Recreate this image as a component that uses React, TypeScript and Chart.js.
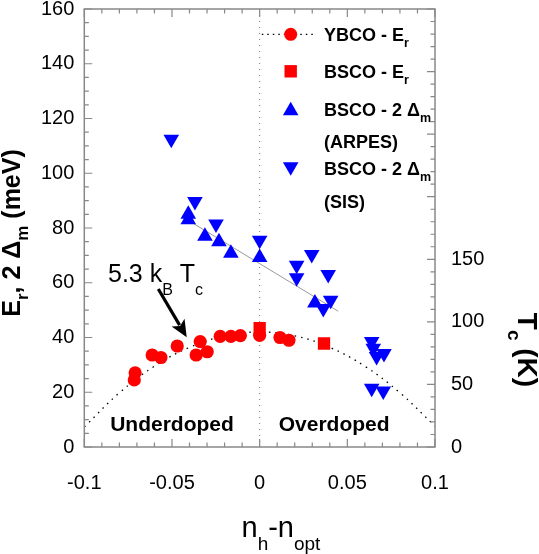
import React, { useEffect, useRef } from 'react';
import { Chart, registerables } from 'chart.js';

Chart.register(...registerables);

// ---------- data ----------
const xTickValues = [-0.1, -0.05, 0, 0.05, 0.1];
const yTickValues = [0, 20, 40, 60, 80, 100, 120, 140, 160];
const tcTickValues = [0, 50, 100, 150];

// YBCO - Er (red circles)
const ybcoX = [-0.0715, -0.071, -0.0613, -0.0563, -0.047, -0.0362, -0.0339, -0.0299, -0.0225, -0.0164, -0.011, 0, 0.0116, 0.0167];
const ybcoY = [24.5, 27.1, 33.6, 32.7, 36.9, 33.6, 38.5, 34.8, 40.4, 40.4, 40.7, 40.8, 40.0, 39.0];

// BSCO - Er (red squares)
const bscoErX = [0, 0.0367];
const bscoErY = [43.4, 37.8];

// BSCO - 2Δm ARPES (blue up triangles)
const arpesX = [-0.0407, -0.0407, -0.0312, -0.0232, -0.0164, 0, 0.0315];
const arpesY = [85.0, 83.0, 77.0, 75.0, 70.8, 69.2, 52.6];

// BSCO - 2Δm SIS (blue down triangles)
const sisX = [-0.0504, -0.0369, -0.0249, 0, 0.0211, 0.0211, 0.0297, 0.0391, 0.0405, 0.0363, 0.0639, 0.0648, 0.0667, 0.0709, 0.0639, 0.0705];
const sisY = [112.4, 89.7, 81.5, 75.5, 66.4, 61.8, 70.3, 63.0, 53.6, 50.6, 38.5, 36.1, 33.1, 34.2, 21.5, 20.5];

// dotted YBCO dome
const domeX = [-0.1, -0.08, -0.06, -0.04, -0.02, 0, 0.02, 0.04, 0.06, 0.08, 0.1];
const domeY = [7.3, 19.8, 29.5, 36.4, 40.6, 42.0, 40.6, 36.4, 29.5, 19.8, 7.6];

// grey straight line through the gaps
const gapLineX = [-0.041, 0.0448];
const gapLineY = [82.9, 49.6];

const FONT = '"Liberation Sans", Arial, Helvetica, sans-serif';

type Part = { t: string; sub?: boolean };

function drawRich(
  ctx: CanvasRenderingContext2D,
  parts: Part[],
  x: number,
  y: number,
  size: number,
  subSize: number,
  subDrop: number,
  weight: string,
  align: 'left' | 'center'
) {
  const widths = parts.map((p) => {
    ctx.font = `${weight} ${p.sub ? subSize : size}px ${FONT}`;
    return ctx.measureText(p.t).width;
  });
  const total = widths.reduce((a, b) => a + b, 0);
  let cx = align === 'center' ? x - total / 2 : x;
  ctx.textAlign = 'left';
  ctx.textBaseline = 'alphabetic';
  parts.forEach((p, i) => {
    ctx.font = `${weight} ${p.sub ? subSize : size}px ${FONT}`;
    ctx.fillText(p.t, cx, p.sub ? y + subDrop : y);
    cx += widths[i];
  });
}

function triangle(ctx: CanvasRenderingContext2D, x: number, y: number, r: number, down: boolean) {
  const s = down ? -1 : 1;
  ctx.beginPath();
  ctx.moveTo(x, y - s * r);
  ctx.lineTo(x + r * 0.866, y + (s * r) / 2);
  ctx.lineTo(x - r * 0.866, y + (s * r) / 2);
  ctx.closePath();
  ctx.fill();
}

const decoPlugin = {
  id: 'deco',
  beforeDatasetsDraw(chart: any) {
    const { ctx, chartArea: a, scales } = chart;
    ctx.save();
    ctx.strokeStyle = '#777';
    ctx.lineWidth = 1;
    ctx.setLineDash([1, 5]);
    const x0 = scales.x.getPixelForValue(0);
    ctx.beginPath();
    ctx.moveTo(x0, a.top);
    ctx.lineTo(x0, a.bottom);
    ctx.stroke();
    ctx.restore();
  },
  afterDraw(chart: any) {
    const { ctx, chartArea: a, scales } = chart;
    const sx = scales.x;
    const sy = scales.y;
    const sy2 = scales.y2;
    ctx.save();

    // frame
    ctx.strokeStyle = '#888';
    ctx.lineWidth = 1.5;
    ctx.strokeRect(a.left, a.top, a.right - a.left, a.bottom - a.top);

    // inward ticks
    ctx.lineWidth = 1.2;
    ctx.beginPath();
    for (let i = -10; i <= 10; i++) {
      const v = i / 100;
      const px = sx.getPixelForValue(v);
      const len = i % 5 === 0 ? 8 : 4.5;
      ctx.moveTo(px, a.bottom);
      ctx.lineTo(px, a.bottom - len);
      ctx.moveTo(px, a.top);
      ctx.lineTo(px, a.top + len);
    }
    for (let v = 0; v <= 160; v += 5) {
      const py = sy.getPixelForValue(v);
      const len = v % 20 === 0 ? 8 : 4.5;
      ctx.moveTo(a.left, py);
      ctx.lineTo(a.left + len, py);
    }
    for (let v = 0; v <= 350; v += 10) {
      const py = sy2.getPixelForValue(v);
      const len = v % 50 === 0 ? 8 : 4.5;
      ctx.moveTo(a.right, py);
      ctx.lineTo(a.right - len, py);
    }
    ctx.stroke();

    ctx.fillStyle = '#000';

    // region labels
    ctx.font = `bold 21px ${FONT}`;
    ctx.textAlign = 'center';
    ctx.textBaseline = 'alphabetic';
    ctx.fillText('Underdoped', sx.getPixelForValue(-0.05), sy.getPixelForValue(5.9));
    ctx.fillText('Overdoped', sx.getPixelForValue(0.0425), sy.getPixelForValue(5.9));

    // annotation 5.3 kB Tc
    drawRich(
      ctx,
      [{ t: '5.3 k' }, { t: 'B', sub: true }, { t: ' T' }, { t: 'c', sub: true }],
      sx.getPixelForValue(-0.0865),
      sy.getPixelForValue(60.4),
      25,
      16,
      13,
      'normal',
      'left'
    );
    // arrow
    const ax0 = sx.getPixelForValue(-0.0578);
    const ay0 = sy.getPixelForValue(57.7);
    const ax1 = sx.getPixelForValue(-0.0416);
    const ay1 = sy.getPixelForValue(40.1);
    const ang = Math.atan2(ay1 - ay0, ax1 - ax0);
    const hl = 17;
    const hw = 7.5;
    const bx = ax1 - hl * Math.cos(ang);
    const by = ay1 - hl * Math.sin(ang);
    ctx.strokeStyle = '#000';
    ctx.lineWidth = 3.2;
    ctx.beginPath();
    ctx.moveTo(ax0, ay0);
    ctx.lineTo(bx + 3 * Math.cos(ang), by + 3 * Math.sin(ang));
    ctx.stroke();
    ctx.beginPath();
    ctx.moveTo(ax1, ay1);
    ctx.lineTo(bx - hw * Math.sin(ang), by + hw * Math.cos(ang));
    ctx.lineTo(bx + 4 * Math.cos(ang), by + 4 * Math.sin(ang));
    ctx.lineTo(bx + hw * Math.sin(ang), by - hw * Math.cos(ang));
    ctx.closePath();
    ctx.fill();

    // legend
    const mx = a.left + 206.4;
    const tx = a.left + 239.7;
    const rows = [25.3, 62.3, 100.3, 132.3, 159.3, 192.3].map((r) => a.top + r);
    ctx.strokeStyle = '#000';
    ctx.lineWidth = 1.2;
    ctx.setLineDash([1.5, 4]);
    ctx.beginPath();
    ctx.moveTo(a.left + 177.5, rows[0]);
    ctx.lineTo(a.left + 232.5, rows[0]);
    ctx.stroke();
    ctx.setLineDash([]);
    ctx.fillStyle = '#ff0000';
    ctx.beginPath();
    ctx.arc(mx, rows[0], 6.5, 0, Math.PI * 2);
    ctx.fill();
    ctx.fillRect(mx - 6.2, rows[1] - 6.2, 12.4, 12.4);
    ctx.fillStyle = '#0000ff';
    triangle(ctx, mx, rows[2] + 1.5, 9, false);
    triangle(ctx, mx, rows[4] - 1.5, 9, true);

    ctx.fillStyle = '#000';
    const lf = 18;
    const ls = 12.5;
    const ld = 6;
    const base = 6.5;
    drawRich(ctx, [{ t: 'YBCO - E' }, { t: 'r', sub: true }], tx, rows[0] + base, lf, ls, ld, 'bold', 'left');
    drawRich(ctx, [{ t: 'BSCO - E' }, { t: 'r', sub: true }], tx, rows[1] + base, lf, ls, ld, 'bold', 'left');
    drawRich(ctx, [{ t: 'BSCO - 2 \u0394' }, { t: 'm', sub: true }], tx, rows[2] + base, lf, ls, ld, 'bold', 'left');
    drawRich(ctx, [{ t: '(ARPES)' }], tx, rows[3] + base, lf, ls, ld, 'bold', 'left');
    drawRich(ctx, [{ t: 'BSCO - 2 \u0394' }, { t: 'm', sub: true }], tx, rows[4] + base, lf, ls, ld, 'bold', 'left');
    drawRich(ctx, [{ t: '(SIS)' }], tx, rows[5] + base, lf, ls, ld, 'bold', 'left');

    // left axis title
    ctx.save();
    ctx.translate(20, (a.top + a.bottom) / 2 + 5);
    ctx.rotate(-Math.PI / 2);
    drawRich(
      ctx,
      [{ t: 'E' }, { t: 'r', sub: true }, { t: ', 2 \u0394' }, { t: 'm', sub: true }, { t: ' (meV)' }],
      0,
      0,
      25,
      17,
      8,
      'bold',
      'center'
    );
    ctx.restore();

    // right axis title
    ctx.save();
    ctx.translate(518, 350);
    ctx.rotate(Math.PI / 2);
    drawRich(ctx, [{ t: 'T' }, { t: 'c', sub: true }, { t: ' (K)' }], 0, 0, 28, 19, 10, 'bold', 'center');
    ctx.restore();

    // x axis title
    drawRich(
      ctx,
      [{ t: 'n' }, { t: 'h', sub: true }, { t: '-n' }, { t: 'opt', sub: true }],
      241.5,
      537,
      29,
      19,
      13,
      'normal',
      'left'
    );

    ctx.restore();
  },
};

function fmt(v: number) {
  const n = Number(Number(v).toFixed(3));
  return n === 0 ? '0' : String(n);
}

export default function App() {
  const ref = useRef<HTMLCanvasElement | null>(null);

  useEffect(() => {
    if (!ref.current) return;
    const pts = (xs: number[], ys: number[]) => xs.map((x, i) => ({ x, y: ys[i] }));
    const chart = new Chart(ref.current, {
      type: 'scatter',
      data: {
        datasets: [
          {
            label: 'YBCO - Er',
            data: pts(ybcoX, ybcoY),
            pointStyle: 'circle',
            pointRadius: 6.6,
            pointHoverRadius: 6.6,
            backgroundColor: '#ff0000',
            borderWidth: 0,
            order: 1,
          },
          {
            label: 'BSCO - Er',
            data: pts(bscoErX, bscoErY),
            pointStyle: 'rect',
            pointRadius: 8.7,
            pointHoverRadius: 8.7,
            backgroundColor: '#ff0000',
            borderWidth: 0,
            order: 1,
          },
          {
            label: 'BSCO - 2Δm (ARPES)',
            data: pts(arpesX, arpesY),
            pointStyle: 'triangle',
            pointRadius: 9,
            pointHoverRadius: 9,
            backgroundColor: '#0000ff',
            borderWidth: 0,
            order: 1,
          },
          {
            label: 'BSCO - 2Δm (SIS)',
            data: pts(sisX, sisY),
            pointStyle: 'triangle',
            rotation: 180,
            pointRadius: 9,
            pointHoverRadius: 9,
            backgroundColor: '#0000ff',
            borderWidth: 0,
            order: 1,
          } as any,
          {
            type: 'line',
            label: 'dome',
            data: pts(domeX, domeY),
            borderColor: '#000',
            borderWidth: 1.3,
            borderDash: [1.5, 5],
            pointRadius: 0,
            tension: 0.4,
            fill: false,
            order: 2,
          } as any,
          {
            type: 'line',
            label: 'gap fit',
            data: pts(gapLineX, gapLineY),
            borderColor: '#999',
            borderWidth: 1,
            pointRadius: 0,
            fill: false,
            order: 2,
          } as any,
        ],
      },
      options: {
        animation: false,
        responsive: false,
        devicePixelRatio: 1,
        layout: { padding: { top: 6.5, left: 0, right: 0, bottom: 0 } },
        plugins: { legend: { display: false }, tooltip: { enabled: false } },
        scales: {
          x: {
            type: 'linear',
            position: 'bottom',
            min: -0.1,
            max: 0.1,
            grid: { display: false, drawTicks: false },
            border: { display: false },
            afterBuildTicks: (s: any) => {
              s.ticks = xTickValues.map((v) => ({ value: v }));
            },
            ticks: {
              color: '#000',
              font: { size: 20, family: FONT },
              padding: 24,
              maxRotation: 0,
              autoSkip: false,
              callback: (v: any) => fmt(v),
            },
            afterFit: (s: any) => {
              s.height = 107;
              s.paddingLeft = 0;
              s.paddingRight = 0;
            },
          },
          y: {
            type: 'linear',
            position: 'left',
            min: 0,
            max: 160,
            grid: { display: false, drawTicks: false },
            border: { display: false },
            afterBuildTicks: (s: any) => {
              s.ticks = yTickValues.map((v) => ({ value: v }));
            },
            ticks: {
              color: '#000',
              font: { size: 20, family: FONT },
              padding: 10,
              autoSkip: false,
              callback: (v: any) => String(v),
            },
            afterFit: (s: any) => {
              s.width = 84.3;
              s.paddingTop = 0;
              s.paddingBottom = 0;
            },
          },
          y2: {
            type: 'linear',
            position: 'right',
            min: 0,
            max: 350,
            grid: { display: false, drawTicks: false },
            border: { display: false },
            afterBuildTicks: (s: any) => {
              s.ticks = tcTickValues.map((v) => ({ value: v }));
            },
            ticks: {
              color: '#000',
              font: { size: 20, family: FONT },
              padding: 16,
              autoSkip: false,
              callback: (v: any) => String(v),
            },
            afterFit: (s: any) => {
              s.width = 104;
              s.paddingTop = 0;
              s.paddingBottom = 0;
            },
          },
        },
      },
      plugins: [decoPlugin],
    } as any);
    return () => chart.destroy();
  }, []);

  return (
    <div style={{ position: 'absolute', left: 0, top: 0, width: 539, height: 554, background: '#fff' }}>
      <canvas ref={ref} width={539} height={554} style={{ display: 'block' }} />
    </div>
  );
}
